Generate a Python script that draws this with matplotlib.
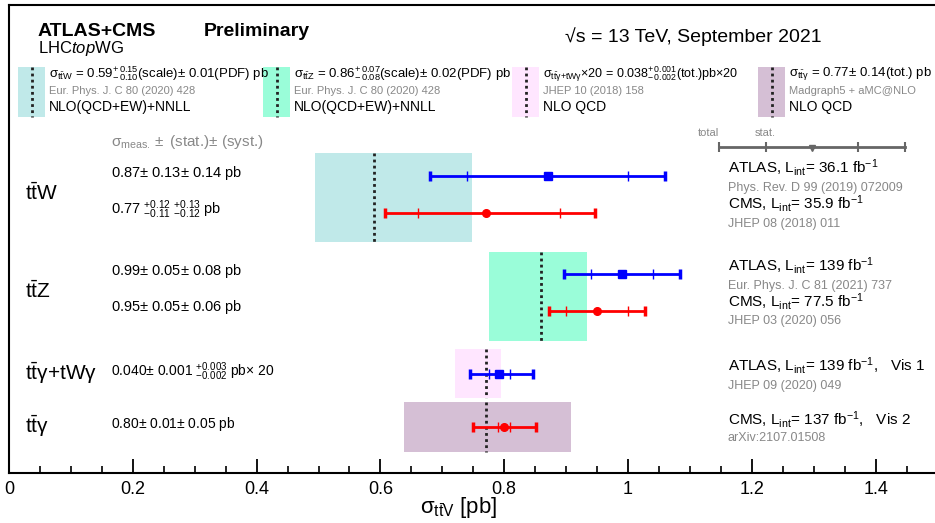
import matplotlib
matplotlib.use('Agg')
import matplotlib.pyplot as plt
from matplotlib.patches import Rectangle
from matplotlib.ticker import MultipleLocator, FuncFormatter

plt.rcParams['font.family'] = ['Liberation Sans', 'DejaVu Sans']
plt.rcParams['mathtext.fontset'] = 'custom'
plt.rcParams['mathtext.rm'] = 'Liberation Sans'
plt.rcParams['mathtext.it'] = 'Liberation Sans:italic'
plt.rcParams['mathtext.bf'] = 'Liberation Sans:bold'
plt.rcParams['mathtext.sf'] = 'Liberation Sans'

# theory predictions (ttW, ttZ, ttgamma+tWgamma x20, ttgamma)
theory_labels = [r'$\rm t\bar{t}W$', r'$\rm t\bar{t}Z$',
                 r'$\rm t\bar{t}\gamma$+tW$\mathrm{\gamma}$', r'$\rm t\bar{t}\gamma$']
theory_center = [0.59, 0.86, 0.77, 0.77]
theory_lo = [0.495, 0.775, 0.72, 0.638]
theory_hi = [0.748, 0.934, 0.795, 0.908]
theory_colors = ['#c0e9e9', '#9afdd9', '#ffe6ff', '#d5bfd5']

# measurements
meas_exp = ['ATLAS', 'CMS', 'ATLAS', 'CMS', 'ATLAS', 'CMS']
meas_val = [0.87, 0.77, 0.99, 0.95, 0.792, 0.80]
stat_lo = [0.13, 0.11, 0.05, 0.05, 0.017, 0.01]
stat_hi = [0.13, 0.12, 0.05, 0.05, 0.017, 0.01]
tot_lo = [0.19, 0.163, 0.094, 0.078, 0.047, 0.051]
tot_hi = [0.19, 0.177, 0.094, 0.078, 0.055, 0.051]

meas_text = [r'0.87$\pm$ 0.13$\pm$ 0.14 pb',
             r'0.77 ${}^{+0.12}_{-0.11}\;{}^{+0.13}_{-0.12}$ pb',
             r'0.99$\pm$ 0.05$\pm$ 0.08 pb',
             r'0.95$\pm$ 0.05$\pm$ 0.06 pb',
             r'0.040$\pm$ 0.001 ${}^{+0.003}_{-0.002}$ pb$\times$ 20',
             r'0.80$\pm$ 0.01$\pm$ 0.05 pb']
meas_lumi = [r'ATLAS, L$_{\rm int}$= 36.1 $\rm fb^{-1}$',
             r'CMS, L$_{\rm int}$= 35.9 $\rm fb^{-1}$',
             r'ATLAS, L$_{\rm int}$= 139 $\rm fb^{-1}$',
             r'CMS, L$_{\rm int}$= 77.5 $\rm fb^{-1}$',
             r'ATLAS, L$_{\rm int}$= 139 $\rm fb^{-1}$,   Vis 1',
             r'CMS, L$_{\rm int}$= 137 $\rm fb^{-1}$,   Vis 2']
meas_ref = ['Phys. Rev. D 99 (2019) 072009', 'JHEP 08 (2018) 011',
            'Eur. Phys. J. C 81 (2021) 737', 'JHEP 03 (2020) 056',
            'JHEP 09 (2020) 049', 'arXiv:2107.01508']

legend_formula = [r'$\mathrm{\sigma}_{\rm t\bar{t}W}$ = 0.59$^{+\,0.15}_{-\,0.10}$(scale)$\pm$ 0.01(PDF) pb',
                  r'$\mathrm{\sigma}_{\rm t\bar{t}Z}$ = 0.86$^{+\,0.07}_{-\,0.08}$(scale)$\pm$ 0.02(PDF) pb',
                  r'$\mathrm{\sigma}_{\rm t\bar{t}\gamma{+}tW\gamma}$$\times$20 = 0.038$^{+\,0.001}_{-\,0.002}$(tot.)pb$\times$20',
                  r'$\mathrm{\sigma}_{\rm t\bar{t}\gamma}$ = 0.77$\pm$ 0.14(tot.) pb']
legend_size = [9.5, 9.5, 9, 9.5]
legend_ref = ['Eur. Phys. J. C 80 (2020) 428', 'Eur. Phys. J. C 80 (2020) 428',
              'JHEP 10 (2018) 158', 'Madgraph5 + aMC@NLO']
legend_order = ['NLO(QCD+EW)+NNLL', 'NLO(QCD+EW)+NNLL', 'NLO QCD', 'NLO QCD']

# layout (pixel rows, figure is 935x523)
W, H = 935, 523
band_y = [(153, 242), (252, 341), (349, 398), (402, 452)]
label_y = [193, 291, 373, 426]
meas_y = [176, 213, 274, 311, 374, 427]
meas_text_y = [173, 210, 271, 307, 372, 424]
legend_x = [18, 263, 512, 758]
meas_colors = {'ATLAS': 'blue', 'CMS': 'red'}
meas_markers = {'ATLAS': 's', 'CMS': 'o'}

fig = plt.figure(figsize=(W / 100, H / 100), dpi=100)
ax = fig.add_axes([9 / W, 1 - 473 / H, (W - 9) / W, (473 - 5) / H])
ax.set_xlim(0, (W - 9) / 619)
ax.set_ylim(473, 5)

for (y0, y1), c, lo, hi, col in zip(band_y, theory_center, theory_lo, theory_hi, theory_colors):
    ax.add_patch(Rectangle((lo, y0), hi - lo, y1 - y0, facecolor=col, edgecolor='none', zorder=1))
    ax.plot([c, c], [y0, y1], color='#222222', ls=(0, (1, 1.2)), lw=2, zorder=2)

for y, e, v, sl, sh, tl, th in zip(meas_y, meas_exp, meas_val, stat_lo, stat_hi, tot_lo, tot_hi):
    col = meas_colors[e]
    ax.plot([v - tl, v + th], [y, y], color=col, lw=2, zorder=3)
    ax.vlines([v - tl, v + th], y - 5, y + 5, color=col, lw=2.5, zorder=3)
    ax.vlines([v - sl, v + sh], y - 5, y + 5, color=col, lw=1, zorder=3)
    ax.plot([v], [y], marker=meas_markers[e], color=col, ms=6 if e == 'ATLAS' else 5.5, zorder=4)

for s in ['top', 'left', 'bottom']:
    ax.spines[s].set_linewidth(1.5)
ax.spines['right'].set_visible(False)
ax.set_yticks([])
ax.xaxis.set_major_locator(MultipleLocator(0.2))
ax.xaxis.set_minor_locator(MultipleLocator(0.05))
ax.xaxis.set_major_formatter(FuncFormatter(lambda v, p: '%g' % round(v, 2)))
ax.tick_params(axis='x', which='major', direction='in', length=10, width=1.3, labelsize=13, pad=6)
ax.tick_params(axis='x', which='minor', direction='in', length=5, width=1.2)

# overlay in pixel coordinates for all text/legend decoration
ov = fig.add_axes([0, 0, 1, 1], facecolor='none')
ov.set_xlim(0, W)
ov.set_ylim(H, 0)
ov.axis('off')

ov.text(38, 31, 'ATLAS+CMS', fontsize=14, fontweight='bold', va='center')
ov.text(38, 48, r'LHC$\mathit{top}$WG', fontsize=12, va='center')
ov.text(204, 31, 'Preliminary', fontsize=14, fontweight='bold', va='center')
ov.text(565, 37, '√s = 13 TeV, September 2021', fontsize=14, va='center')

for x, col, f, fs, r, o in zip(legend_x, theory_colors, legend_formula, legend_size, legend_ref, legend_order):
    ov.add_patch(Rectangle((x, 67), 27, 50, facecolor=col, edgecolor='none'))
    ov.plot([x + 14, x + 14], [67, 117], color='#222222', ls=(0, (1, 1.2)), lw=2)
    ov.text(x + 31, 74, f, fontsize=fs, va='center')
    ov.text(x + 31, 91, r, fontsize=8, color='#888888', va='center')
    ov.text(x + 31, 107, o, fontsize=10, va='center')

for lab, y in zip(theory_labels, label_y):
    ov.text(25, y, lab, fontsize=15, va='center')

ov.text(111, 142, r'$\mathrm{\sigma}_{\rm meas.}\pm$ (stat.)$\pm$ (syst.)', fontsize=11, color='#888888', va='center')
for i, (t, y) in enumerate(zip(meas_text, meas_text_y)):
    ov.text(111, y, t, fontsize=10.5 if i < 4 else 10, va='center')

ref_y = [188, 224, 286, 321, 386, 438]
lumi_y = [167, 203, 265, 301, 366, 419]
for l, r, y1, y2 in zip(meas_lumi, meas_ref, lumi_y, ref_y):
    ov.text(728, y1, l, fontsize=11, va='center')
    ov.text(728, y2, r, fontsize=9, color='#888888', va='center')

# total/stat key
ov.plot([719, 905], [147, 147], color='#666666', lw=2)
ov.vlines([719, 766, 858, 905], 142, 152, color='#666666', lw=1.5)
ov.plot([812], [148], marker='v', color='#666666', ms=4)
ov.text(708, 133, 'total', fontsize=8, color='#888888', ha='center', va='center')
ov.text(765, 133, 'stat.', fontsize=8, color='#888888', ha='center', va='center')

ov.text(459, 507, r'$\mathrm{\sigma}_{\rm t\bar{t}V}$ [pb]', fontsize=16, ha='center', va='center')

fig.savefig('out.png', dpi=100)
